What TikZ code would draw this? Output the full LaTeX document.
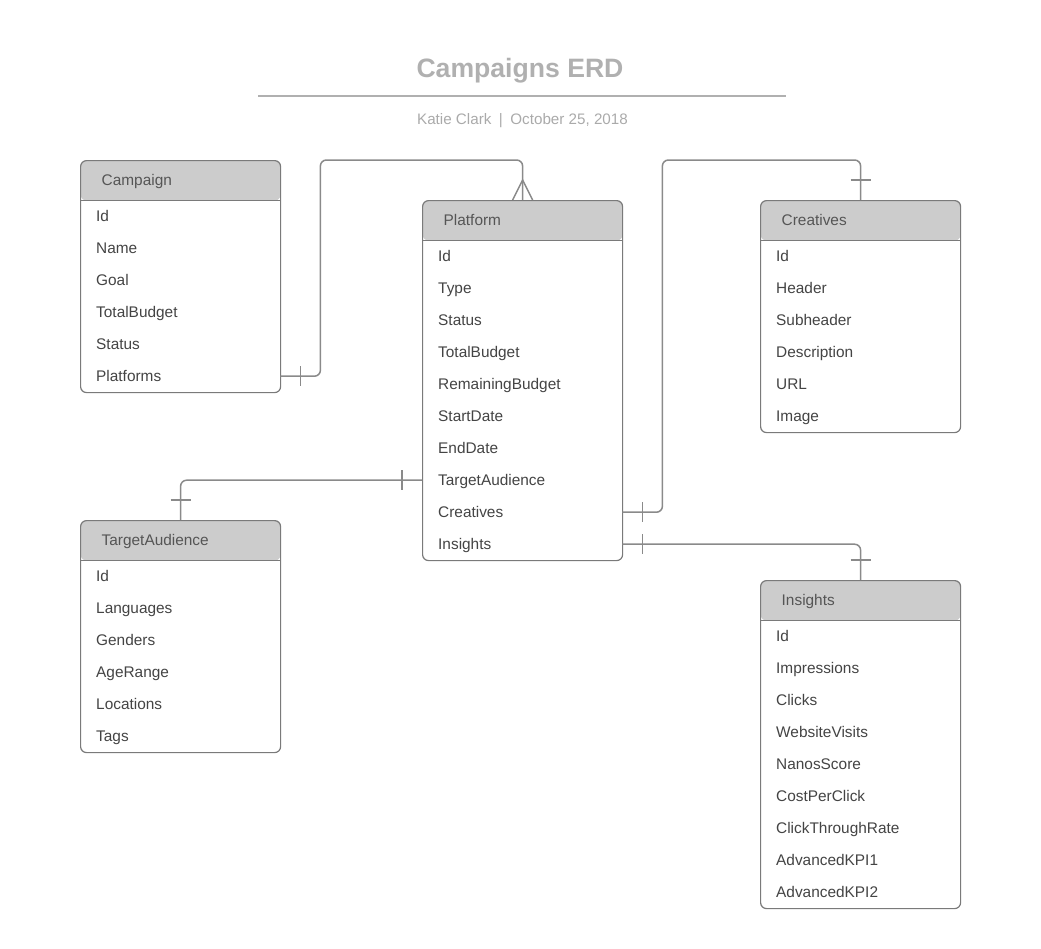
\documentclass[tikz,border=0pt]{standalone}
\usepackage{fontspec}
\setmainfont{Liberation Sans}
\definecolor{boxline}{HTML}{7A7A7A}
\definecolor{connline}{HTML}{8A8A8A}
\definecolor{headfill}{HTML}{CCCCCC}
\definecolor{headtextc}{HTML}{555555}
\definecolor{rowtextc}{HTML}{444444}
\definecolor{titlec}{HTML}{B0B0B0}
\definecolor{subc}{HTML}{AAAAAA}
\tikzset{
  ebox/.style={rectangle, draw=boxline, line width=1.2pt, fill=white,
    rounded corners=6pt, minimum width=200pt, inner sep=0pt,
    path picture={
      \fill[headfill] (path picture bounding box.north west) rectangle ([yshift=-40pt]path picture bounding box.north east);
      \draw[boxline, line width=1.2pt] ([yshift=-40pt]path picture bounding box.north west) -- ([yshift=-40pt]path picture bounding box.north east);
    }},
  headtext/.style={inner sep=0pt, text=headtextc, font=\fontsize{15.4}{18}\selectfont, text height=11pt, text depth=0pt},
  rowbox/.style={rectangle, inner ysep=0pt, inner xsep=16pt, text width=168pt, minimum height=32pt,
    align=left, text=rowtextc, font=\fontsize{15.4}{18}\selectfont, text height=11pt, text depth=0pt},
  conn/.style={draw=connline, line width=1.5pt, rounded corners=6pt},
  bar/.style={draw=connline, line width=1.5pt},
}
\newcommand{\erdentity}[6]{%
  \node[ebox, minimum height={40+32*#5}, anchor=north west] (#1) at (#2,#3) {};
  \node[headtext, anchor=west] (#1-title) at (#2+21.5,#3+20) {#4};
  \foreach \r [count=\i] in {#6} {
    \node[rowbox, anchor=north west] (#1-\i) at (#2,#3+8+32*\i) {\r};
  }
}
\begin{document}
\begin{tikzpicture}[x=1pt,y=-1pt]
\useasboundingbox (0,0) rectangle (1041,948);
% title
\node[anchor=base, text=titlec, font=\fontsize{26.6}{30}\selectfont\bfseries, inner sep=0pt] (title) at (520,77) {Campaigns ERD};
\coordinate (ruleL) at (258,95.5);
\coordinate (ruleR) at (786,95.5);
\draw[titlec, line width=2pt] (ruleL) -- (ruleR);
\node[anchor=base, text=subc, font=\fontsize{15.2}{18}\selectfont, inner sep=0pt] (subtitle) at (522.5,124) {Katie Clark\hspace{7.5pt}|\hspace{7.5pt}October 25, 2018};
% entities
\erdentity{camp}{80}{160}{Campaign}{6}{Id,Name,Goal,TotalBudget,Status,Platforms}
\erdentity{plat}{422}{200}{Platform}{10}{Id,Type,Status,TotalBudget,RemainingBudget,StartDate,EndDate,TargetAudience,Creatives,Insights}
\erdentity{cre}{760}{200}{Creatives}{6}{Id,Header,Subheader,Description,URL,Image}
\erdentity{ta}{80}{520}{TargetAudience}{6}{Id,Languages,Genders,AgeRange,Locations,Tags}
\erdentity{ins}{760}{580}{Insights}{9}{Id,Impressions,Clicks,WebsiteVisits,NanosScore,CostPerClick,ClickThroughRate,AdvancedKPI1,AdvancedKPI2}
% connectors
\draw[conn] (camp-6.east) -- ++(40,0) |- ([yshift=40pt]plat.north) -- (plat.north);
\draw[bar] ([xshift=20pt]camp-6.east) ++(0,-10) -- ++(0,20);
\draw[bar] ([xshift=-10pt]plat.north) -- ([yshift=20pt]plat.north) -- ([xshift=10pt]plat.north);

\draw[conn] (plat-9.east) -- ++(40,0) |- ([yshift=40pt]cre.north) -- (cre.north);
\draw[bar] ([xshift=20pt]plat-9.east) ++(0,-10) -- ++(0,20);
\draw[bar] ([yshift=20pt]cre.north) ++(-10,0) -- ++(20,0);

\draw[conn] (plat-8.west) -| (ta.north);
\draw[bar] ([xshift=-20pt]plat-8.west) ++(0,-10) -- ++(0,20);
\draw[bar] ([yshift=20pt]ta.north) ++(-10,0) -- ++(20,0);

\draw[conn] (plat-10.east) -| (ins.north);
\draw[bar] ([xshift=20pt]plat-10.east) ++(0,-10) -- ++(0,20);
\draw[bar] ([yshift=20pt]ins.north) ++(-10,0) -- ++(20,0);
\end{tikzpicture}
\end{document}
